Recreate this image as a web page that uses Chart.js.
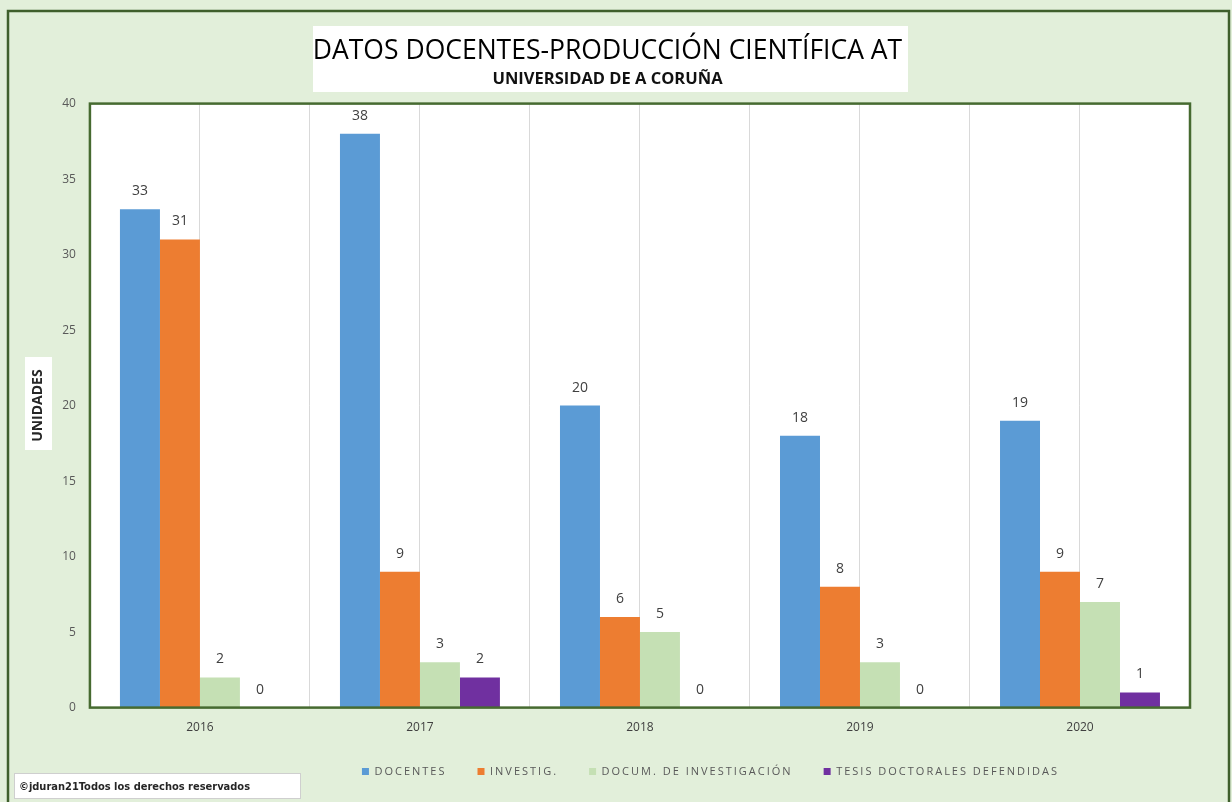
<!DOCTYPE html>
<html>
<head>
<meta charset="utf-8">
<script src="https://cdn.jsdelivr.net/npm/chart.js@4.4.1/dist/chart.umd.min.js"></script>
<style>
	html, body { margin: 0; padding: 0; background: #e2efda; }
	#wrap { width: 1232px; height: 802px; }
</style>
</head>
<body>
<div id="wrap"><canvas id="chart" width="1232" height="802"></canvas></div>
<script>
const years = ['2016', '2017', '2018', '2019', '2020'];
const docentes = [33, 38, 20, 18, 19];
const investig = [31, 9, 6, 8, 9];
const documInvestigacion = [2, 3, 5, 3, 7];
const tesisDefendidas = [0, 2, 0, 0, 1];
const yMin = 0;
const yMax = 40;
const yStep = 5;

const frame = {
	id: 'frame',
	afterInit(chart) {
		// spaced-out legend lettering, as in the original
		const lg = chart.legend;
		const ctx = chart.ctx;
		const fit = lg.fit.bind(lg);
		const draw = lg.draw.bind(lg);
		lg.fit = function() { ctx.save(); ctx.letterSpacing = '2px'; fit(); ctx.restore(); };
		lg.draw = function() { ctx.save(); ctx.letterSpacing = '2px'; draw(); ctx.restore(); };
	},
	afterLayout(chart) {
		// legend sits right of centre in the original
		const lg = chart.legend;
		lg.left += 103; lg.right += 103;
		lg.top -= 13; lg.bottom -= 13;
	},
	beforeDraw(chart) {
		const { ctx, chartArea: a, width, height } = chart;
		ctx.save();
		ctx.fillStyle = '#e2efda';
		ctx.fillRect(0, 0, width, height);
		ctx.strokeStyle = '#3f5f2c';
		ctx.lineWidth = 2.5;
		ctx.strokeRect(8, 11, width - 11, height + 10);
		ctx.fillStyle = '#ffffff';
		ctx.fillRect(313, 26, 595, 66);
		ctx.fillRect(25, 357, 27, 93);
		ctx.fillRect(a.left, a.top, a.right - a.left, a.bottom - a.top);
		ctx.fillRect(14, 773, 286, 25);
		ctx.strokeStyle = '#cfcfcf';
		ctx.lineWidth = 1;
		ctx.strokeRect(14.5, 773.5, 286, 25);
		ctx.fillStyle = '#262626';
		ctx.font = 'bold 11px "Liberation Sans Narrow", "DejaVu Sans Condensed", sans-serif';
		ctx.textBaseline = 'middle';
		ctx.fillText('©jduran21Todos los derechos reservados', 19, 787);
		ctx.restore();
	},
	afterDatasetsDraw(chart) {
		const { ctx, chartArea: a } = chart;
		ctx.save();
		ctx.strokeStyle = '#466a30';
		ctx.lineWidth = 2.5;
		ctx.strokeRect(a.left, a.top, a.right - a.left, a.bottom - a.top);
		ctx.fillStyle = '#404040';
		ctx.font = '14px "Open Sans", sans-serif';
		ctx.textAlign = 'center';
		ctx.textBaseline = 'middle';
		chart.data.datasets.forEach((ds, i) => {
			chart.getDatasetMeta(i).data.forEach((bar, j) => {
				ctx.fillText(String(ds.data[j]), bar.x, bar.y - 18);
			});
		});
		ctx.restore();
	}
};

Chart.defaults.font.family = '"Open Sans", sans-serif';
Chart.defaults.color = '#595959';

new Chart(document.getElementById('chart'), {
	type: 'bar',
	plugins: [frame],
	data: {
		labels: years,
		datasets: [{
			label: 'DOCENTES',
			backgroundColor: '#5b9bd5',
			data: docentes,
		}, {
			label: 'INVESTIG.',
			backgroundColor: '#ed7d31',
			data: investig,
		}, {
			label: 'DOCUM. DE INVESTIGACIÓN',
			backgroundColor: '#c5e0b4',
			data: documInvestigacion,
		}, {
			label: 'TESIS DOCTORALES DEFENDIDAS',
			backgroundColor: '#7030a0',
			data: tesisDefendidas,
		}],
	},
	options: {
		responsive: false,
		animation: false,
		categoryPercentage: 0.727,
		barPercentage: 1.0,
		layout: { padding: { top: 10, left: 25, right: 42, bottom: 14 } },
		plugins: {
			title: {
				display: true,
				text: 'DATOS DOCENTES-PRODUCCIÓN CIENTÍFICA AT',
				color: '#000000',
				font: { size: 26.5, weight: 'normal' },
				padding: { top: 26, bottom: 0 }
			},
			subtitle: {
				display: true,
				text: 'UNIVERSIDAD DE A CORUÑA',
				color: '#111111',
				font: { size: 16.5, weight: 'bold' },
				padding: { top: 2, bottom: 14 }
			},
			legend: {
				position: 'bottom',
				maxHeight: 40,
				labels: {
					boxWidth: 7,
					boxHeight: 7,
					padding: 31,
					color: '#595959',
					font: { size: 11 }
				}
			},
			tooltip: { enabled: false }
		},
		scales: {
			x: {
				grid: { offset: false, color: '#d9d9d9', drawTicks: false },
				border: { display: false },
				ticks: { padding: 13, color: '#404040', font: { size: 12 } }
			},
			x2: {
				type: 'category',
				labels: years,
				position: 'bottom',
				offset: true,
				grid: { offset: true, color: '#d9d9d9', drawTicks: false },
				border: { display: false },
				ticks: { display: false }
			},
			y: {
				min: yMin,
				max: yMax,
				ticks: { stepSize: yStep, padding: 14, color: '#595959', font: { size: 12 } },
				grid: { display: false, drawTicks: false },
				border: { display: false },
				title: {
					display: true,
					text: 'UNIDADES',
					color: '#262626',
					font: { size: 14, weight: 'bold' },
					padding: { top: 5, bottom: 1.4 }
				}
			}
		}
	}
});
</script>
</body>
</html>
